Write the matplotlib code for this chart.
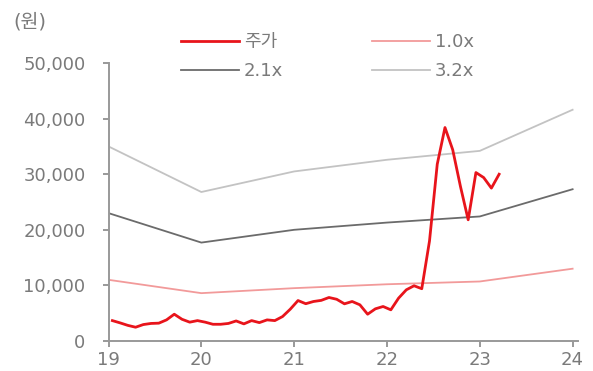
import matplotlib
matplotlib.use("Agg")
import matplotlib.pyplot as plt
import numpy as np

plt.rcParams['font.family'] = ['DejaVu Sans', 'Noto Sans CJK KR']

# Monthly share price (원), sampled mid-month from Jan 2019
price = [3660, 3250, 2800, 2470, 2950, 3150, 3200, 3790, 4810, 3900,
         3380, 3660, 3380, 3000, 3000, 3150, 3600, 3070, 3660, 3300,
         3790, 3660, 4390, 5720, 7270, 6700, 7100, 7300, 7820, 7500,
         6680, 7100, 6500, 4810, 5780, 6200, 5600, 7700, 9200, 9930,
         9400, 18000, 31800, 38400, 34400, 27800, 21800, 30300, 29400, 27500,
         30000]
price_t = [19 + (k + 0.5) / 12 for k in range(len(price))]

# PBR band lines at year ends
band_years = [19, 20, 21, 22, 23, 24]
band_10x = [11000, 8600, 9500, 10200, 10700, 13000]
band_21x = [23000, 17700, 20000, 21300, 22400, 27300]
band_32x = [35000, 26800, 30500, 32600, 34200, 41600]

x_ticks = [19, 20, 21, 22, 23, 24]
y_ticks = [0, 10000, 20000, 30000, 40000, 50000]

text_col = '#7a7a7a'
fs = 13
fig = plt.figure(figsize=(5.93, 3.71), dpi=100)
ax = fig.add_axes([0.183, 0.081, 0.792, 0.749])

l_price, = ax.plot(price_t, price, color='#e8141b', lw=2.0, label='주가', zorder=5)
l_10, = ax.plot(band_years, band_10x, color='#f29a9a', lw=1.3, label='1.0x')
l_21, = ax.plot(band_years, band_21x, color='#6b6b6b', lw=1.3, label='2.1x')
l_32, = ax.plot(band_years, band_32x, color='#c3c3c3', lw=1.3, label='3.2x')

ax.set_xlim(19, 24.06)
ax.set_ylim(0, 50000)
ax.set_xticks(x_ticks)
ax.set_xticklabels([str(v) for v in x_ticks])
ax.set_yticks(y_ticks)
ax.set_yticklabels([f'{v:,}' for v in y_ticks])

for s in ['top', 'right']:
    ax.spines[s].set_visible(False)
for s in ['left', 'bottom']:
    ax.spines[s].set_color('#999999')
    ax.spines[s].set_linewidth(1.4)
ax.tick_params(axis='both', colors='#999999', labelcolor=text_col,
               labelsize=fs, length=4.5, width=1.4)
ax.tick_params(axis='y', pad=12)
ax.tick_params(axis='x', pad=3)

fig.text(0.022, 0.941, '(원)', color=text_col, fontsize=14, va='center', ha='left')

leg = fig.legend(handles=[l_price, l_21, l_10, l_32], ncol=2, frameon=False,
                 loc='upper left', bbox_to_anchor=(0.305, 0.911),
                 borderaxespad=0, borderpad=0,
                 fontsize=fs, handlelength=3.2, handletextpad=0.3,
                 columnspacing=4.9, labelspacing=0.62)
for t in leg.get_texts():
    t.set_color(text_col)

fig.savefig('out.png', dpi=100)
